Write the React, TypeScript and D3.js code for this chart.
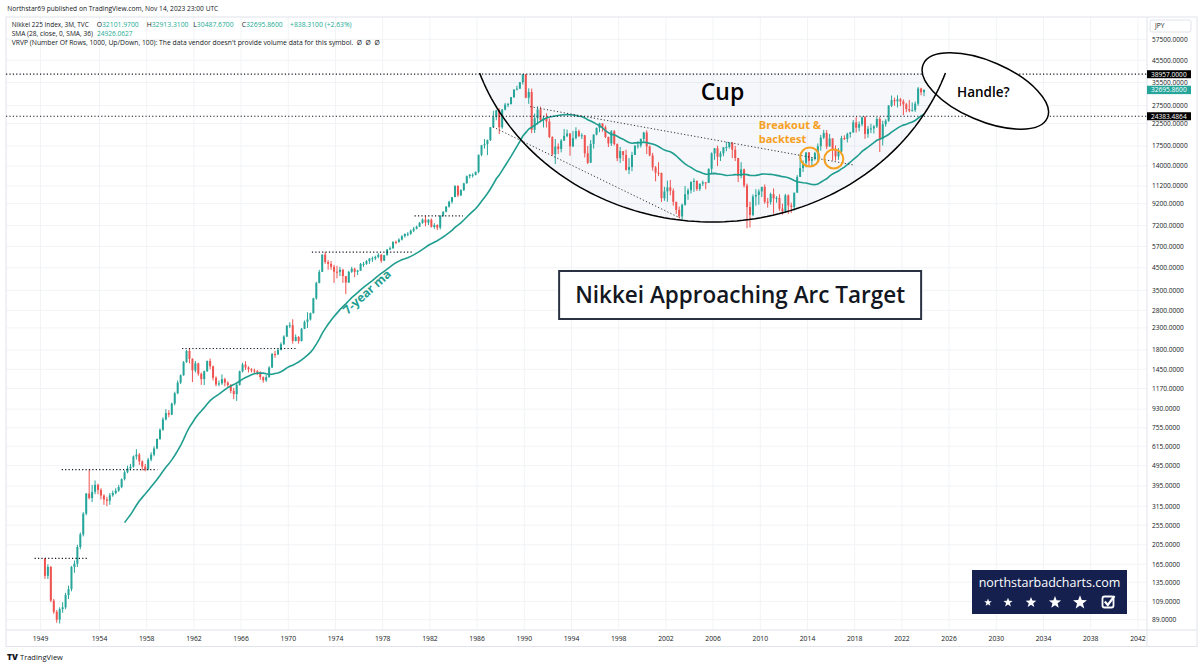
import React from 'react';
import * as d3 from 'd3';

// ---------------- DATA (quarterly Nikkei 225, first candle 1949 Q2) ----------------
const firstYear = 1949;
const firstQuarter = 2;
const firstOpen = 176.21;

const closes: number[] = [
  145, 160, 110,
  97, 89, 100, 102,
  117, 125, 160, 166,
  200, 230, 290, 363,
  345, 370, 400, 378,
  355, 340, 335, 356,
  365, 375, 390, 426,
  460, 480, 490, 549,
  560, 520, 490, 475,
  530, 560, 600, 667,
  740, 830, 890, 875,
  990, 1110, 1250, 1357,
  1570, 1780, 1630, 1433,
  1550, 1380, 1300, 1420,
  1590, 1500, 1320, 1225,
  1240, 1300, 1250, 1217,
  1140, 1100, 1220, 1418,
  1530, 1480, 1450, 1432,
  1420, 1400, 1330, 1283,
  1330, 1480, 1720, 1715,
  1800, 1920, 2090, 2359,
  2370, 1990, 2080, 1987,
  2280, 2460, 2530, 2714,
  3200, 3800, 4300, 5208,
  4800, 4700, 4550, 4307,
  4300, 4400, 4100, 3817,
  4300, 4450, 4300, 4359,
  4700, 4700, 4850, 4991,
  5000, 5080, 5200, 4866,
  5180, 5520, 5600, 6002,
  6000, 6160, 6400, 6569,
  6570, 6800, 6950, 7116,
  7420, 7700, 7450, 7682,
  7100, 7250, 7050, 8017,
  8400, 8900, 9400, 9894,
  11200, 10100, 10700, 11543,
  12500, 12700, 12700, 13113,
  15860, 17650, 17850, 18701,
  21566, 24176, 26011, 21564,
  26260, 27769, 27924, 30159,
  32839, 33183, 35637, 38916,
  29980, 31940, 20984, 23849,
  26292, 23291, 23916, 22984,
  19346, 15951, 17399, 16925,
  18591, 19590, 20106, 17417,
  19112, 20644, 19564, 19723,
  16140, 14517, 17913, 19868,
  21407, 22531, 21556, 19361,
  18003, 20605, 17888, 15258,
  16527, 15830, 13406, 13842,
  15837, 17530, 17605, 18934,
  20337, 17411, 15747, 13786,
  12999, 12969, 9775, 10543,
  11025, 10622, 9383, 8579,
  7973, 9083, 10219, 10677,
  11715, 11858, 10823, 11489,
  11668, 11584, 13574, 16111,
  17060, 15505, 16128, 17226,
  17288, 18138, 16786, 15308,
  12526, 13481, 11260, 8860,
  8110, 9958, 10133, 10546,
  11090, 9383, 9369, 10229,
  9755, 9816, 8700, 8455,
  10084, 9007, 8870, 10395,
  12398, 13677, 14456, 16291,
  14828, 15162, 16174, 17451,
  19207, 20236, 17388, 19034,
  16759, 15576, 16450, 19114,
  18909, 20033, 20356, 22765,
  21454, 22305, 24120, 20015,
  21206, 21276, 21756, 23656,
  18917, 22288, 23185, 27444,
  29179, 28792, 29453, 28792,
  27821, 26393, 25937, 26095,
  28041, 33189, 31857, 32695.86,
];

const highs: number[] = [
  176.21, 165, 162,
  112, 99, 102, 108,
  120, 130, 162, 172,
  205, 235, 295, 365,
  474, 400, 420, 405,
  385, 360, 350, 365,
  375, 385, 400, 430,
  470, 495, 505, 555,
  595, 570, 525, 505,
  540, 575, 615, 670,
  750, 850, 930, 920,
  1000, 1130, 1280, 1370,
  1590, 1800, 1829, 1640,
  1590, 1560, 1400, 1430,
  1600, 1634, 1510, 1340,
  1280, 1370, 1320, 1270,
  1230, 1180, 1240, 1430,
  1560, 1588, 1500, 1470,
  1460, 1440, 1420, 1340,
  1360, 1500, 1740, 1780,
  1830, 1960, 2120, 2370,
  2450, 2534, 2140, 2100,
  2300, 2500, 2740, 2730,
  3220, 3850, 4400, 5230,
  5359, 4900, 4850, 4650,
  4600, 4550, 4450, 4100,
  4350, 4550, 4500, 4400,
  4750, 4800, 4900, 5000,
  5100, 5150, 5300, 5250,
  5200, 5550, 5700, 6050,
  6100, 6250, 6470, 6590,
  6700, 6900, 7100, 7200,
  7500, 7800, 8019, 7750,
  7800, 7400, 7300, 8100,
  8450, 8950, 9500, 9900,
  11300, 11300, 10800, 11600,
  12600, 12800, 12900, 13150,
  15900, 17700, 18900, 18800,
  21600, 25900, 26200, 26646,
  26400, 28300, 28300, 30200,
  32900, 34300, 35700, 38957,
  38712, 33300, 33200, 25100,
  27200, 27146, 24500, 25200,
  23800, 19500, 18900, 18000,
  18900, 21148, 21000, 20200,
  20700, 21552, 21000, 20200,
  19800, 17500, 18700, 19900,
  21500, 22666, 22500, 22000,
  19400, 20900, 20900, 18000,
  17300, 16500, 16800, 15300,
  16400, 17700, 18500, 19000,
  20500, 20833, 17600, 16200,
  14000, 14600, 12900, 11100,
  11900, 11980, 10900, 9400,
  8900, 9200, 11200, 10900,
  11800, 12195, 11900, 11500,
  11900, 11600, 13600, 16300,
  17100, 17563, 16500, 17300,
  18300, 18300, 18300, 17500,
  15200, 14600, 13600, 11500,
  9400, 10200, 10800, 10800,
  11100, 11400, 9800, 10400,
  10900, 10000, 10200, 9200,
  10250, 10200, 9300, 10400,
  12650, 15943, 14900, 16300,
  16300, 15400, 16400, 18000,
  19800, 20952, 20900, 20000,
  18900, 17600, 17100, 19600,
  19700, 20300, 20500, 23382,
  24129, 23000, 24300, 24448,
  21900, 22400, 22100, 24091,
  24115, 23200, 23600, 27600,
  30714, 30000, 30795, 29900,
  29400, 28300, 29200, 28400,
  28700, 33772, 33500, 32913.31,
];

const lows: number[] = [
  140, 140, 108,
  95, 86, 85.25, 96,
  100, 112, 122, 150,
  160, 195, 225, 285,
  340, 330, 360, 360,
  340, 320, 315, 320,
  350, 360, 370, 385,
  420, 455, 470, 485,
  530, 500, 470, 465,
  470, 520, 550, 595,
  660, 730, 820, 850,
  870, 970, 1100, 1230,
  1350, 1560, 1550, 1258,
  1400, 1350, 1220, 1216,
  1410, 1450, 1280, 1200,
  1200, 1220, 1200, 1190,
  1110, 1040, 1020, 1210,
  1400, 1440, 1400, 1400,
  1380, 1360, 1290, 1250,
  1260, 1320, 1470, 1650,
  1700, 1790, 1900, 2080,
  2300, 1929, 1980, 1930,
  1980, 2270, 2300, 2500,
  2700, 3150, 3780, 4300,
  4700, 4400, 4400, 3800,
  4000, 4100, 3800, 3355,
  3800, 4250, 4050, 4150,
  4350, 4550, 4650, 4700,
  4800, 4900, 5000, 4760,
  4850, 5150, 5480, 5550,
  5850, 5950, 6100, 6300,
  6400, 6500, 6700, 6900,
  7100, 7350, 7150, 7250,
  7050, 6950, 6849, 6900,
  7950, 8350, 8800, 9200,
  9900, 9900, 10000, 10600,
  11500, 12200, 12300, 12600,
  12900, 15600, 17000, 15800,
  18500, 21500, 23300, 20000,
  21200, 26000, 27000, 27800,
  29900, 32500, 33000, 34700,
  29800, 28000, 20200, 20222,
  22200, 23000, 21500, 21500,
  19100, 15700, 14309, 16000,
  16300, 18500, 19300, 15700,
  17300, 18800, 19300, 18900,
  15400, 14300, 14485, 17000,
  19700, 20400, 20500, 19100,
  17300, 17500, 17600, 14775,
  14500, 14800, 13300, 12787,
  13200, 15800, 17000, 17200,
  18100, 16000, 15600, 13300,
  11800, 12500, 9382, 9500,
  9400, 10100, 9000, 8200,
  7800, 7604, 9000, 9600,
  10300, 10500, 10600, 10600,
  11200, 10800, 11600, 12900,
  15000, 14000, 14800, 15600,
  16500, 17000, 15300, 14800,
  11700, 12200, 11000, 6994,
  7054, 8000, 9000, 9100,
  9900, 9200, 8800, 9100,
  8227, 9300, 8500, 8135,
  8300, 8200, 8300, 8500,
  10400, 12400, 13100, 13800,
  13900, 13900, 14900, 14500,
  16600, 18900, 16900, 17600,
  14865, 14864, 15000, 16100,
  18700, 18200, 19200, 20300,
  20300, 20600, 21800, 18949,
  19200, 20200, 20100, 21400,
  16358, 17600, 21700, 22900,
  27000, 27400, 26900, 27300,
  24681, 25500, 25500, 25700,
  25600, 27400, 30800, 30487.67,
];

const smaLength = 28;

const priceTicks = [89, 109, 135, 165, 205, 255, 315, 395, 495, 615, 755, 930, 1170, 1450, 1800, 2300, 2800, 3500, 4500, 5700, 7200, 9200, 11200, 14000, 17500, 22500, 27500, 35500, 45500, 57500];
const yearTicks = [1949, 1954, 1958, 1962, 1966, 1970, 1974, 1978, 1982, 1986, 1990, 1994, 1998, 2002, 2006, 2010, 2014, 2018, 2022, 2026, 2030, 2034, 2038, 2042];

// prior-high resistance levels (price, from year, to year)
const priorHighs = [
  { price: 176.21, from: 1948.5, to: 1953.0 },
  { price: 474, from: 1950.8, to: 1958.9 },
  { price: 1829, from: 1961.0, to: 1970.8 },
  { price: 5359, from: 1972.0, to: 1980.5 },
  { price: 8019, from: 1980.7, to: 1984.8 },
];
const keyLevels = [38957, 24383.4864];
const keyLevelLabels = ['38957.0000', '24383.4864'];
const lastPriceLabel = '32695.8600';
const lastPrice = 32695.86;

const legendValues = ['32101.9700', '32913.3100', '30487.6700', '32695.8600'];
const legendLetters = ['O', 'H', 'L', 'C'];
const legendChange = '+838.3100 (+2.63%)';
const smaLegendValue = '24926.0627';

const trendLines = [
  { y0: 1990.5, p0: 27130, y1: 2017.9, p1: 14160 },
  { y0: 1987.35, p0: 21630, y1: 2003.2, p1: 7842 },
];
// cup arc: rim chord, bottom, horizontal extent and ellipse centre (data units)
const cupArc = { centreYear: 2005.95, centrePrice: 89000, bottomPrice: 7500, rimPrice: 39490, halfSpanYears: 20.9 };
const handleCentre = { year: 2029.07, price: 32300 };
const breakoutCircles = [
  { year: 2014.19, price: 15475 },
  { year: 2016.23, price: 15136 },
];

// ---------------- helpers ----------------
const UP = '#26a69a';
const DOWN = '#ef5350';
const SMA_COLOR = '#1f9d8f';
const TEXT = '#131722';
const TEAL_TXT = '#22ab94';
const GRID = '#f1f3f6';
const BORDER = '#e0e3eb';
const FONT = "'Open Sans', 'Noto Sans', sans-serif";

function starPath(cx: number, cy: number, R: number) {
  const r = R * 0.42;
  let p = '';
  for (let k = 0; k < 10; k++) {
    const a = -Math.PI / 2 + (k * Math.PI) / 5;
    const rad = k % 2 === 0 ? R : r;
    p += (k ? 'L' : 'M') + (cx + rad * Math.cos(a)).toFixed(2) + ',' + (cy + rad * Math.sin(a)).toFixed(2);
  }
  return p + 'Z';
}

export default function App() {
  const left = 6, right = 1147, top = 17, bottom = 630, outerRight = 1197, outerBottom = 646.5;
  const x = d3.scaleLinear().domain([1990, 2042]).range([524.3, 524.3 + 52 * 11.8]);
  const y = d3.scaleLog().domain([89, 57500]).range([619.6, 39.3]);

  const candles = closes.map((c, i) => {
    const qi = firstQuarter - 1 + i;
    const yr = firstYear + Math.floor(qi / 4);
    const q = qi % 4;
    const t = yr + q * 0.25 + 0.125;
    const o = i === 0 ? firstOpen : closes[i - 1];
    const h = Math.max(highs[i], o, c);
    const l = Math.min(lows[i], o, c);
    return { t, o, h, l, c };
  });

  const sma = candles
    .map((d, i) => {
      if (i < smaLength - 1) return null;
      const v = d3.mean(closes.slice(i - smaLength + 1, i + 1)) as number;
      return { t: d.t, v };
    })
    .filter(Boolean) as { t: number; v: number }[];
  const smaPath = d3.line<{ t: number; v: number }>().x((d) => x(d.t)).y((d) => y(d.v))(sma) || '';

  // cup ellipse in pixel space from data anchors
  const cx = x(cupArc.centreYear);
  const cy = y(cupArc.centrePrice);
  const ry = y(cupArc.bottomPrice) - cy;
  const rx = x(cupArc.centreYear + cupArc.halfSpanYears) - cx;
  const rimY = y(cupArc.rimPrice);
  const phi0 = Math.asin((rimY - cy) / ry);
  const arcPts: [number, number][] = d3.range(0, 101).map((k) => {
    const a = phi0 + ((Math.PI - 2 * phi0) * k) / 100;
    return [cx + rx * Math.cos(a), cy + ry * Math.sin(a)];
  });
  const arcPath = d3.line()(arcPts) || '';
  const arcFill = arcPath + 'Z';

  const hx = x(handleCentre.year);
  const hy = y(handleCentre.price);

  const bodyW = 2;
  const legendLetterX = [96.7, 146.7, 193.3, 241.7];

  return (
    <svg width={1200} height={667} style={{ position: 'absolute', left: 0, top: 0, background: '#fff' }} fontFamily={FONT}>
      <defs>
        <clipPath id="pane">
          <rect x={left} y={top} width={right - left} height={bottom - top} />
        </clipPath>
      </defs>
      <rect x={0} y={0} width={1200} height={667} fill="#fff" />

      {/* grid */}
      <g clipPath="url(#pane)">
        {yearTicks.map((t) => (
          <line key={'gx' + t} x1={x(t)} x2={x(t)} y1={top} y2={bottom} stroke={GRID} strokeWidth={1} />
        ))}
        {priceTicks.map((p) => (
          <line key={'gy' + p} x1={left} x2={right} y1={y(p)} y2={y(p)} stroke={GRID} strokeWidth={1} />
        ))}
      </g>

      {/* frame */}
      <rect x={left} y={top} width={outerRight - left} height={outerBottom - top} fill="none" stroke={BORDER} />
      <line x1={left} x2={outerRight} y1={bottom} y2={bottom} stroke={BORDER} />
      <line x1={right} x2={right} y1={top} y2={outerBottom} stroke={BORDER} />

      <g clipPath="url(#pane)">
        {/* cup fill */}
        <path d={arcFill} fill="rgba(110,140,200,0.065)" />

        {/* candles */}
        {candles.map((d, i) => {
          const col = d.c >= d.o ? UP : DOWN;
          const px = x(d.t);
          const yo = y(d.o), yc = y(d.c);
          return (
            <g key={'c' + i}>
              <line x1={px} x2={px} y1={y(d.h)} y2={y(d.l)} stroke={col} strokeWidth={1} />
              <rect x={px - bodyW / 2} y={Math.min(yo, yc)} width={bodyW} height={Math.max(1, Math.abs(yo - yc))} fill={col} />
            </g>
          );
        })}

        {/* SMA */}
        <path d={smaPath} fill="none" stroke={SMA_COLOR} strokeWidth={1.6} />

        {/* prior highs */}
        {priorHighs.map((h, i) => (
          <line key={'ph' + i} x1={x(h.from)} x2={x(h.to)} y1={y(h.price)} y2={y(h.price)} stroke={TEXT} strokeWidth={1.2} strokeDasharray="1.2 2.2" />
        ))}
        {/* key horizontal levels */}
        {keyLevels.map((p, i) => (
          <line key={'kl' + i} x1={left} x2={right} y1={y(p)} y2={y(p)} stroke={TEXT} strokeWidth={1.2} strokeDasharray="1.2 2.2" />
        ))}
        {/* trend lines */}
        {trendLines.map((l, i) => (
          <line key={'tl' + i} x1={x(l.y0)} x2={x(l.y1)} y1={y(l.p0)} y2={y(l.p1)} stroke="#333" strokeWidth={1} strokeDasharray="1.2 2.2" />
        ))}

        {/* handle ellipse */}
        <ellipse cx={hx} cy={hy} rx={67.6} ry={29.7} transform={`rotate(23.3 ${hx} ${hy})`} fill="#fff" stroke="#000" strokeWidth={1.5} />
        {/* cup arc */}
        <path d={arcPath} fill="none" stroke="#000" strokeWidth={1.5} />

        {/* breakout circles */}
        {breakoutCircles.map((c, i) => (
          <circle key={'bc' + i} cx={x(c.year)} cy={y(c.price)} r={9.5} fill="none" stroke="#f5a01f" strokeWidth={2} />
        ))}
      </g>

      {/* annotations */}
      <text x={x(2006.8)} y={y(32100)} dy="0.35em" textAnchor="middle" fontSize={23} fontWeight={600} fill="#000">Cup</text>
      <text x={hx - 2} y={hy + 1} dy="0.35em" textAnchor="middle" fontSize={13.5} fontWeight={600} fill="#000">Handle?</text>
      <text x={x(2009.87)} y={y(22090)} dy="0.35em" fontSize={11} fontWeight={700} fill="#f5a01f">Breakout &amp;</text>
      <text x={x(2009.87)} y={y(18900)} dy="0.35em" fontSize={11} fontWeight={700} fill="#f5a01f">backtest</text>
      <text
        x={x(1976.66)}
        y={y(3436)}
        dy="0.35em"
        textAnchor="middle"
        fontSize={12}
        fontWeight={700}
        fill={SMA_COLOR}
        transform={`rotate(-42 ${x(1976.66)} ${y(3436)})`}
      >
        7-year ma
      </text>

      {/* title box */}
      <g>
        <rect x={x(2008.29) - 181} y={y(3322) - 24} width={362} height={48} fill="#fff" stroke="#2a3142" strokeWidth={2} />
        <text x={x(2008.29)} y={y(3322)} dy="0.36em" textAnchor="middle" fontSize={22.5} fontWeight={600} fill={TEXT}>
          Nikkei Approaching Arc Target
        </text>
      </g>

      {/* logo box */}
      <g>
        <rect x={972} y={570} width={155} height={44} fill="#15204f" />
        <text x={1049.5} y={583} dy="0.35em" textAnchor="middle" fontSize={12.5} fill="#fff">northstarbadcharts.com</text>
        {[{ c: 988, r: 4 }, { c: 1008, r: 4.8 }, { c: 1031, r: 5.6 }, { c: 1055, r: 6.4 }, { c: 1080, r: 7.3 }].map((s, i) => (
          <path key={'st' + i} d={starPath(s.c, 602.5, s.r)} fill="#fff" />
        ))}
        <rect x={1102.5} y={596.5} width={11} height={11} rx={2} fill="none" stroke="#fff" strokeWidth={1.8} />
        <path d="M1104.8,601.5 L1107.8,605 L1114.5,596" fill="none" stroke="#fff" strokeWidth={2.2} />
      </g>

      {/* x axis labels */}
      {yearTicks.map((t) => (
        <text key={'xl' + t} x={x(t)} y={638.3} dy="0.35em" textAnchor="middle" fontSize={6.8} fill={TEXT}>
          {t}
        </text>
      ))}

      {/* y axis labels */}
      {priceTicks.map((p) => (
        <text key={'yl' + p} x={1152} y={y(p)} dy="0.35em" fontSize={6.6} fill={TEXT}>
          {p.toFixed(4)}
        </text>
      ))}
      {/* JPY */}
      <rect x={1150} y={20} width={41} height={12} rx={2} fill="#fff" stroke={BORDER} />
      <text x={1155} y={26} dy="0.35em" fontSize={6.6} fill={TEXT}>JPY</text>

      {/* price labels */}
      {keyLevels.map((p, i) => (
        <g key={'kb' + i}>
          <rect x={right} y={y(p) - 4} width={44} height={8} fill="#000" />
          <text x={1151} y={y(p)} dy="0.35em" fontSize={6.6} fill="#fff">{keyLevelLabels[i]}</text>
        </g>
      ))}
      <rect x={right} y={y(lastPrice) - 4.2} width={44} height={8.4} fill="#26a69a" />
      <text x={1151} y={y(lastPrice)} dy="0.35em" fontSize={6.6} fill="#fff">{lastPriceLabel}</text>

      {/* header */}
      <text x={7.3} y={8.3} dy="0.35em" fontSize={7} fill={TEXT} textLength={211} lengthAdjust="spacingAndGlyphs">
        Northstar69 published on TradingView.com, Nov 14, 2023 23:00 UTC
      </text>
      <text x={11.7} y={24.3} dy="0.35em" fontSize={6.8} fill={TEXT} textLength={77} lengthAdjust="spacingAndGlyphs">
        Nikkei 225 Index, 3M, TVC
      </text>
      {legendLetters.map((L, i) => (
        <text key={'lg' + i} x={legendLetterX[i]} y={24.3} dy="0.35em" fontSize={6.8} fill={TEXT}>
          {L}
          <tspan fill={TEAL_TXT}>{legendValues[i]}</tspan>
        </text>
      ))}
      <text x={290} y={24.3} dy="0.35em" fontSize={6.8} fill={TEAL_TXT}>{legendChange}</text>
      <text x={11.7} y={33.3} dy="0.35em" fontSize={6.6} fill={TEXT}>
        SMA (28, close, 0, SMA, 36)
        <tspan dx={4} fill={TEAL_TXT}>{smaLegendValue}</tspan>
      </text>
      <text x={11.7} y={42.7} dy="0.35em" fontSize={7} fill={TEXT} textLength={368} lengthAdjust="spacingAndGlyphs">
        {"VRVP (Number Of Rows, 1000, Up/Down, 100): The data vendor doesn't provide volume data for this symbol.\u00a0\u00a0Ø\u00a0\u00a0Ø\u00a0\u00a0Ø"}
      </text>

      {/* TradingView footer */}
      <text x={7} y={657} dy="0.35em" fontSize={8.5} fontWeight={900} fill={TEXT}>TV</text>
      <text x={20} y={657} dy="0.35em" fontSize={7.5} fill={TEXT}>TradingView</text>
    </svg>
  );
}
